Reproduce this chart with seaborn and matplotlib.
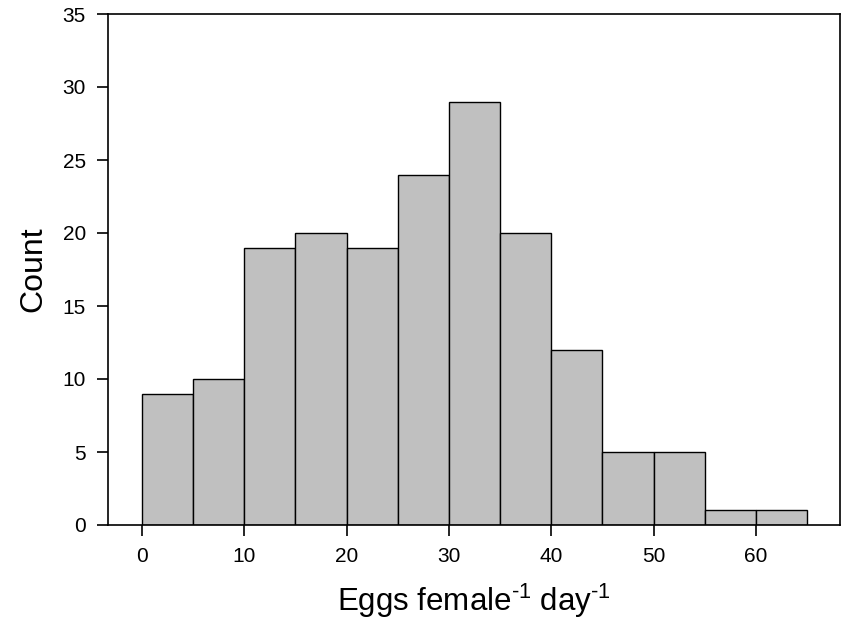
import matplotlib
matplotlib.use("Agg")
import matplotlib.pyplot as plt
import seaborn as sns
import numpy as np

bin_edges = [0, 5, 10, 15, 20, 25, 30, 35, 40, 45, 50, 55, 60, 65]
counts = [9, 10, 19, 20, 19, 24, 29, 20, 12, 5, 5, 1, 1]
x_ticks = [0, 10, 20, 30, 40, 50, 60]
y_ticks = [0, 5, 10, 15, 20, 25, 30, 35]

sns.set_style("ticks")
plt.rcParams['font.family'] = ['Liberation Sans', 'DejaVu Sans']
plt.rcParams['mathtext.fontset'] = 'custom'
plt.rcParams['mathtext.rm'] = 'Liberation Sans'
plt.rcParams['mathtext.it'] = 'Liberation Sans'
plt.rcParams['mathtext.default'] = 'regular'

centers = [(a + b) / 2 for a, b in zip(bin_edges[:-1], bin_edges[1:])]

fig = plt.figure(figsize=(8.46, 6.26), dpi=100)
ax = fig.add_axes([108/846, 1 - 525/626, (840-108)/846, (525-14)/626])

sns.histplot(x=centers, weights=counts, bins=bin_edges, ax=ax,
             color="#c0c0c0", alpha=1, edgecolor="black", linewidth=1.0)

ax.set_xlim(-3.3, 68.2)
ax.set_ylim(0, 35)
ax.set_xticks(x_ticks)
ax.set_yticks(y_ticks)
ax.tick_params(axis='both', direction='out', length=8, width=1.2,
               colors='black', labelcolor='black', pad=8)
for lab in ax.get_xticklabels() + ax.get_yticklabels():
    lab.set_fontsize(15)
for s in ax.spines.values():
    s.set_visible(True)
    s.set_linewidth(1.2)
    s.set_color('black')

ax.set_xlabel(r'Eggs female$^{\text{-}1}$ day$^{\text{-}1}$', fontsize=22.5, labelpad=11, color='black')
ax.set_ylabel('Count', fontsize=23, labelpad=10, color='black')

fig.savefig("out.png", dpi=100)
